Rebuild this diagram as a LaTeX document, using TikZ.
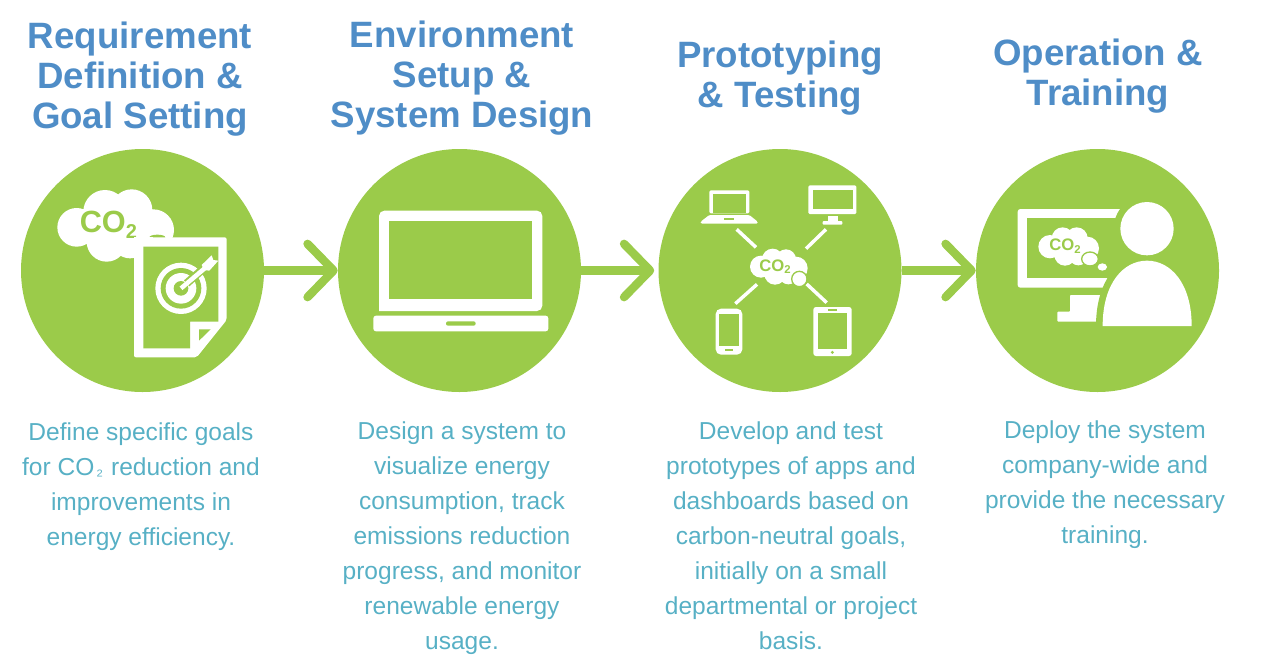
\documentclass[tikz,border=0pt]{standalone}
\usepackage{fontspec}
\setmainfont{Liberation Sans}
\usetikzlibrary{arrows.meta}
\definecolor{leaf}{RGB}{155,203,74}
\definecolor{titleblue}{RGB}{79,141,199}
\definecolor{bodyteal}{RGB}{87,176,197}
\tikzset{
  x=0.75pt,y=-0.75pt,
  stage/.style={circle,fill=leaf,minimum size=182.25pt,inner sep=0pt},
  steptitle/.style={align=center,text=titleblue,inner sep=0pt,font=\fontsize{27.5}{30}\selectfont\bfseries},
  stepbody/.style={align=center,text=bodyteal,inner sep=0pt,font=\fontsize{18.4}{26.25}\selectfont},
  flow/.style={draw=leaf,line width=6.3pt,-{Straight Barb[length=19.5pt,width=40pt,line width=6.3pt,round]}},
  icon/.style={x=0.25pt,y=-0.25pt},
  co/.style={text=leaf,inner sep=0pt,font=\bfseries\fontsize{#1}{#1}\selectfont}
}
\begin{document}
\begin{tikzpicture}
\useasboundingbox (0,0) rectangle (1280,671);
\node[stage] (c1) at (142.5,270.5) {};
\node[stage] (c2) at (459.5,270.5) {};
\node[stage] (c3) at (780,270.5) {};
\node[stage] (c4) at (1097.5,270.5) {};
\draw[flow] (c1) -- (c2);
\draw[flow,shorten >=3pt] (c2) -- (c3);
\draw[flow] (c3) -- (c4);
% titles
\node[steptitle] (t1) at (140,79.5) {Requirement\\Definition \&\\Goal Setting};
\node[steptitle] (t2) at (462,78.5) {Environment\\Setup \&\\System Design};
\node[steptitle] (t3) at (780,78) {Prototyping\\\& Testing};
\node[steptitle] (t4) at (1098,76) {Operation \&\\Training};
% bodies
\node[stepbody] (b1) at (141,487) {Define specific goals\\for CO\kern1.5pt{\fontsize{13}{13}\selectfont ₂}\kern6pt reduction and\\improvements in\\energy efficiency.};
\node[stepbody] (b2) at (462,538) {Design a system to\\visualize energy\\consumption, track\\emissions reduction\\progress, and monitor\\renewable energy\\usage.};
\node[stepbody] (b3) at (791,536) {Develop and test\\prototypes of apps and\\dashboards based on\\carbon-neutral goals,\\initially on a small\\departmental or project\\basis.};
\node[stepbody] (b4) at (1105,485) {Deploy the system\\company-wide and\\provide the necessary\\training.};
% icon 1
\begin{scope}[icon,shift={(60,450)}]
\fill[white] (170,232) circle (58) (255,185) circle (65) (335,180) circle (62) (400,240) circle (62) (260,275) circle (60) (330,270) circle (55);
\fill[leaf] (412,262) ellipse (24 and 8);
\node[co=23] at (265,224) {CO\raisebox{-4pt}{\fontsize{15}{15}\selectfont 2}};
\fill[white,rounded corners=1.5pt] (342,262) -- (620,262) -- (620,510) -- (530,622) -- (342,622) -- cycle;
\fill[white] (342,262) rectangle (400,300);
\fill[leaf] (370,290) -- (595,290) -- (595,515) -- (510,515) -- (510,595) -- (370,595) -- cycle;
\fill[leaf] (537,538) -- (572,538) -- (537,572) -- cycle;
\fill[white] (483,415) circle (77);
\fill[leaf] (483,415) circle (61);
\fill[white] (483,415) circle (46);
\fill[leaf] (483,415) circle (22);
\draw[leaf,line width=6pt] (500,400) -- (555,352);
\draw[white,line width=3.4pt] (483,415) -- (560,350);
\fill[white] (545,345) -- (575,316) -- (580,330) -- (595,332) -- (568,362) -- (552,360) -- cycle;
\end{scope}
% icon 2
\begin{scope}[icon,shift={(1020,450)}]
\fill[white,rounded corners=4pt] (117,483) -- (117,182) -- (607,182) -- (607,483) [sharp corners] -- cycle;
\fill[leaf] (148,212) rectangle (577,447);
\fill[white,rounded corners=2pt] (100,497) rectangle (625,544);
\fill[leaf,rounded corners=1.5pt] (318,514) rectangle (407,527);
\end{scope}
% icon 3
\begin{scope}[icon,shift={(1980,450)}]
\fill[white,rounded corners=1pt] (148,190) -- (148,121) -- (268,121) -- (268,190) -- cycle;
\fill[leaf] (159,132) rectangle (257,190);
\fill[white,rounded corners=1pt] (122,221) -- (122,215) -- (148,195) -- (268,195) -- (293,215) -- (293,221) -- cycle;
\fill[leaf] (192,204) rectangle (222,209);
\fill[white,rounded corners=1pt] (445,106) rectangle (589,192);
\fill[leaf] (458,120) rectangle (578,178);
\fill[white] (503,197) rectangle (533,213);
\fill[white,rounded corners=.7pt] (488,213) rectangle (547,224);
\draw[white,line width=2.6pt] (230,238) -- (288,292) (498,238) -- (438,296) (291,403) -- (226,461) (440,402) -- (500,458);
\fill[white] (303,350) circle (33) (338,328) circle (32) (378,328) circle (30) (408,355) circle (35) (345,372) circle (32) (385,375) circle (28);
\node[co=12.5] at (345,350) {CO\raisebox{-2pt}{\fontsize{8.5}{8.5}\selectfont 2}};
\fill[white,draw=leaf,line width=1pt] (418,387) circle (23);
\fill[white,rounded corners=4pt] (167,476) rectangle (247,614);
\fill[leaf] (178,492) rectangle (237,587);
\fill[leaf] (196,598) rectangle (220,603);
\fill[white,rounded corners=2pt] (460,471) rectangle (575,618);
\fill[leaf] (475,488) rectangle (560,596);
\fill[leaf] (505,478) rectangle (530,482);
\fill[leaf] (517,607) circle (5);
\end{scope}
% icon 4
\begin{scope}[icon,shift={(2910,450)}]
\fill[white,rounded corners=2pt] (560,177) -- (143,177) -- (143,413) -- (560,413) -- cycle;
\fill[leaf] (172,205) rectangle (560,385);
\fill[white] (240,290) circle (35) (278,265) circle (33) (320,265) circle (33) (352,295) circle (35) (285,315) circle (32) (325,318) circle (28);
\node[co=12.5] at (285,288) {CO\raisebox{-2pt}{\fontsize{8.5}{8.5}\selectfont 2}};
\fill[white,draw=leaf,line width=1pt] (360,327) ellipse (25 and 21);
\fill[white] (397,351) ellipse (14 and 11);
\fill[white,rounded corners=.7pt] (300,435) -- (430,435) -- (430,515) -- (262,515) -- (262,485) -- (300,485) -- cycle;
\path[fill=leaf,draw=leaf,line width=10pt] (398,528) .. controls (398,400) and (460,332) .. (531,332) .. controls (602,332) and (665,400) .. (665,528) -- cycle;
\fill[leaf] (531,236) circle (100);
\fill[white] (531,236) circle (80);
\fill[white] (398,528) .. controls (398,400) and (460,332) .. (531,332) .. controls (602,332) and (665,400) .. (665,528) -- cycle;
\end{scope}
\end{tikzpicture}
\end{document}
